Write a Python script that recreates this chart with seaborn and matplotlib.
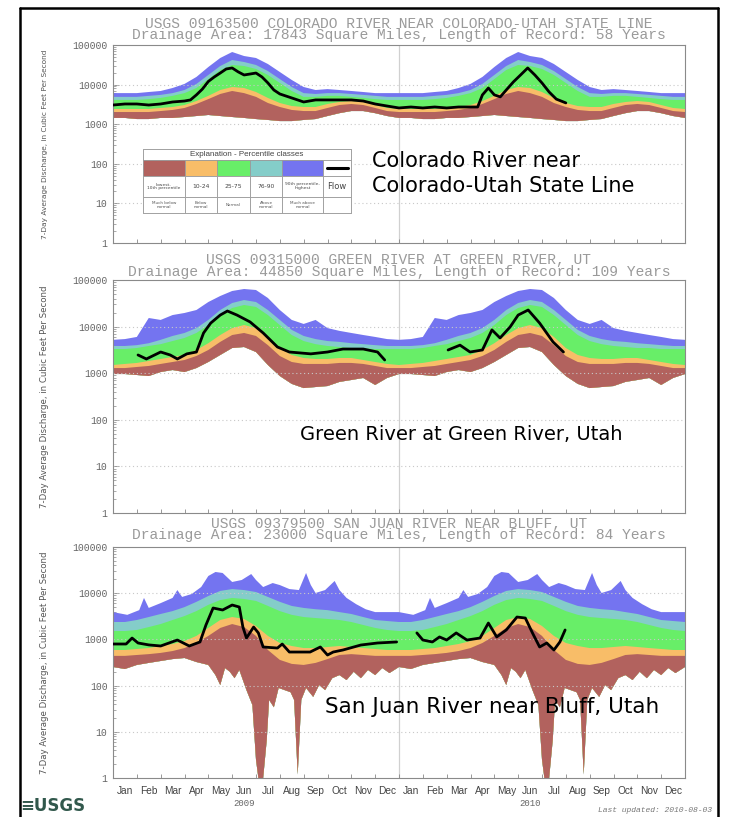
import numpy as np
import pandas as pd
import matplotlib.pyplot as plt
import seaborn as sns
from matplotlib.patches import Rectangle
from matplotlib.lines import Line2D
from matplotlib.ticker import LogLocator, NullFormatter

sns.set_style("white")
plt.rcParams["font.family"] = ["DejaVu Sans"]

# ---- data: 7-day average discharge (cfs), months since Jan 1 2009 ----
half_months = np.arange(0, 12, 0.5)
month_names = ["Jan", "Feb", "Mar", "Apr", "May", "Jun",
               "Jul", "Aug", "Sep", "Oct", "Nov", "Dec"]
years = ["2009", "2010"]

# Colorado River near Colorado-Utah state line (daily percentiles, one year)
co_max = [6100, 6100, 6100, 6500, 6900, 8200, 10400, 15600, 27800, 47000, 66500, 52700,
          47000, 33100, 20800, 13100, 8700, 7300, 7700, 7300, 6900, 6500, 6100, 6100]
co_p90 = [4900, 4900, 4900, 5200, 5500, 6100, 7300, 10400, 17500, 29500, 41800, 37200,
          31300, 22000, 13800, 8700, 6100, 5800, 6100, 6100, 5800, 5500, 5200, 4900]
co_p75 = [4100, 4100, 4100, 4300, 4600, 5200, 6100, 8200, 13800, 23400, 31300, 29500,
          24800, 17500, 11000, 6900, 4900, 4900, 5200, 5200, 4900, 4600, 4300, 4100]
co_p25 = [2420, 2420, 2420, 2420, 2570, 2720, 3050, 3850, 5200, 7300, 8700, 8200,
          6500, 4600, 3430, 2880, 2720, 2720, 3240, 3640, 3850, 3640, 3050, 2570]
co_p10 = [2030, 2030, 2030, 2030, 2150, 2290, 2570, 3240, 4300, 5800, 6900, 6100,
          4900, 3430, 2720, 2290, 2150, 2150, 2570, 3050, 3240, 3050, 2570, 2150]
co_min = [1440, 1440, 1350, 1350, 1440, 1440, 1520, 1610, 1710, 1610, 1520, 1440,
          1350, 1280, 1200, 1200, 1280, 1350, 1610, 1900, 2150, 2150, 1900, 1610]
co_flow_t = [0, 0.5, 1, 1.5, 2, 2.5, 3, 3.25, 3.5, 3.75, 4, 4.25, 4.5, 4.75, 5, 5.25,
             5.5, 5.75, 6, 6.25, 6.5, 6.75, 7, 7.5, 8, 8.5, 9, 9.5, 10, 10.5, 11, 11.5,
             12, 12.5, 13, 13.5, 14, 14.5, 15, 15.3, 15.5, 15.75, 16, 16.25, 16.5, 16.8,
             17.1, 17.4, 17.7, 18, 18.3, 18.6, 19]
co_flow = [3050, 3240, 3240, 3050, 3240, 3640, 3850, 4100, 5500, 7700, 12000, 15600,
           19600, 24800, 26300, 21000, 17500, 18500, 19600, 15600, 11000, 7300, 5800,
           4600, 3640, 4100, 4100, 4100, 4100, 3850, 3240, 2880, 2570, 2720, 2570, 2720,
           2570, 2720, 2720, 2720, 5500, 8200, 5500, 4900, 7300, 11700, 17500, 26300,
           17500, 11000, 6500, 4300, 3450]

# Green River at Green River, UT
gr_max = [5200, 5400, 6000, 15300, 13900, 17700, 19600, 22700, 33700, 45400, 58100, 64100,
          61000, 41100, 22700, 13900, 11400, 13900, 9300, 8100, 7300, 6600, 6000, 5400]
gr_p90 = [3840, 3840, 4000, 4400, 5200, 6300, 7300, 9300, 13900, 22700, 32100, 37200,
          33700, 22700, 13900, 8500, 6300, 5400, 4900, 4700, 4400, 4200, 4000, 3840]
gr_p75 = [3300, 3300, 3470, 3840, 4200, 4900, 5700, 7300, 10800, 17700, 25100, 29100,
          26400, 17700, 10800, 6600, 4900, 4200, 3840, 3650, 3470, 3470, 3300, 3300]
gr_p25 = [1500, 1580, 1660, 1830, 2020, 2230, 2460, 3150, 4400, 6600, 9300, 10800,
          9300, 6000, 3470, 2460, 2120, 2020, 2020, 2120, 2120, 1920, 1740, 1580]
gr_p10 = [1290, 1290, 1360, 1430, 1580, 1740, 1920, 2340, 3150, 4700, 6600, 7300,
          6300, 4000, 2340, 1740, 1580, 1580, 1580, 1660, 1660, 1580, 1430, 1290]
gr_min = [960, 960, 915, 870, 1060, 1170, 1060, 1290, 1740, 2460, 3470, 3650,
          2850, 1500, 870, 590, 480, 505, 530, 650, 715, 790, 560, 790]
gr_flow_t1 = [1.05, 1.4, 2.0, 2.4, 2.7, 3.1, 3.5, 3.8, 4.1, 4.5, 4.8, 5.2, 5.75, 6.3,
              6.9, 7.4, 8.3, 9.0, 9.65, 10.5, 11.1, 11.4]
gr_flow1 = [2460, 2020, 2850, 2460, 2020, 2600, 2850, 7300, 11900, 17700, 21600, 17700,
            12600, 7300, 3650, 2850, 2600, 2850, 3300, 3300, 2850, 1920]
gr_flow_t2 = [14.06, 14.56, 14.98, 15.5, 15.9, 16.24, 16.66, 17.0, 17.42, 17.9, 18.46, 18.9]
gr_flow2 = [3150, 4000, 2850, 3150, 8500, 5700, 9800, 17700, 22700, 11900, 4700, 2850]

# San Juan River near Bluff, UT
sj_max_t = [0, 0.6, 1.1, 1.3, 1.5, 2.0, 2.5, 2.7, 2.9, 3.3, 3.7, 4.0, 4.3, 4.6, 5.0, 5.4,
            5.8, 6.0, 6.3, 6.7, 7.0, 7.4, 7.8, 8.1, 8.3, 8.5, 8.9, 9.3, 9.5, 9.8, 10.2,
            10.6, 11.0, 11.5]
sj_max = [3900, 3400, 4300, 7900, 4800, 6100, 7900, 11700, 8300, 9600, 13600, 23600,
          28800, 27400, 17500, 19300, 26000, 19300, 13600, 16600, 15000, 12300, 11700,
          27400, 15000, 10100, 11700, 18400, 11700, 7900, 5800, 4500, 3900, 3900]
sj_p90 = [2380, 2380, 2630, 3050, 3550, 4100, 5000, 6500, 8700, 11200, 12300, 11700,
          10600, 8300, 6500, 5300, 4800, 4500, 4300, 3900, 3550, 3050, 2630, 2500]
sj_p75 = [1520, 1520, 1600, 1850, 2150, 2630, 3200, 4100, 5600, 7100, 7900, 7500,
          6800, 5300, 4100, 3400, 3050, 2900, 2770, 2630, 2380, 2050, 1770, 1600]
sj_p25 = [590, 590, 620, 650, 720, 795, 920, 1190, 1770, 2630, 3050, 2770,
          1950, 1190, 836, 720, 650, 650, 685, 720, 685, 650, 620, 590]
sj_p10 = [440, 440, 460, 480, 510, 560, 650, 836, 1190, 1770, 2150, 1850,
          1190, 590, 360, 295, 280, 310, 375, 460, 480, 460, 440, 440]
sj_min_t = [0.0, 0.5, 1.0, 1.5, 2.0, 2.5, 3.0, 3.5, 4.0, 4.3, 4.5, 4.7, 4.9, 5.1, 5.3,
            5.6, 5.85, 6.0, 6.1, 6.3, 6.45, 6.55, 6.75, 6.95, 7.2, 7.45, 7.6, 7.75, 7.9,
            8.1, 8.4, 8.65, 8.9, 9.2, 9.5, 9.8, 10.1, 10.4, 10.7, 11.0, 11.3, 11.6]
sj_min = [253, 229, 280, 310, 341, 375, 396, 324, 280, 169, 103, 240, 200, 145, 218,
          80, 38, 2.5, 1.0, 1.0, 6.6, 49, 34, 89, 80, 72, 49, 1.2, 49, 89, 57, 103, 80,
          145, 169, 132, 200, 145, 218, 169, 240, 187]
sj_flow_t1 = [0, 0.55, 0.8, 1.05, 1.5, 2.0, 2.7, 3.2, 3.65, 3.9, 4.2, 4.6, 5.0, 5.3,
              5.45, 5.6, 5.9, 6.1, 6.3, 6.9, 7.1, 7.4, 8.27, 8.7, 9.0, 9.24, 9.65, 10.4,
              11.1, 11.9]
sj_flow1 = [795, 795, 1070, 836, 760, 720, 970, 720, 880, 2050, 4780, 4330, 5550, 5020,
            1850, 1070, 1850, 1380, 685, 650, 795, 533, 533, 685, 459, 533, 590, 756,
            836, 880]
sj_flow_t2 = [12.75, 13.0, 13.4, 13.7, 14.0, 14.4, 14.85, 15.4, 15.75, 16.1, 16.5, 16.95,
              17.3, 17.6, 17.9, 18.2, 18.5, 18.75, 18.97]
sj_flow2 = [1380, 970, 880, 1130, 970, 1380, 970, 1070, 2260, 1130, 1600, 3050, 2900,
            1380, 685, 836, 590, 880, 1600]

legend_labels = ["lowest-\n10th percentile", "10-24", "25-75", "76-90",
                 "90th percentile-\nhighest", "Flow"]
legend_desc = ["Much below\nnormal", "Below\nnormal", "Normal", "Above\nnormal",
               "Much above\nnormal", ""]

BROWN, ORANGE, GREEN, TEAL, BLUE = "#b2625e", "#f8bd68", "#68ee68", "#84cdc9", "#7474f0"

W, H = 730, 817
fig = plt.figure(figsize=(W / 100, H / 100), dpi=100)


def fx(px):
    return px / W


def fy(py):
    return 1 - py / H


def two_years(t, v):
    # the percentile classes repeat every year
    t = np.asarray(t, float)
    v = np.asarray(v, float)
    return np.r_[t, t + 12, 24], np.r_[v, v, v[0]]


panels = [
    dict(top=45, bottom=243, ttl=29.5, ysize=5.3,
         title="USGS 09163500 COLORADO RIVER NEAR COLORADO-UTAH STATE LINE\n"
               "Drainage Area: 17843 Square Miles, Length of Record: 58 Years",
         bands=[(half_months, co_min), (half_months, co_p10), (half_months, co_p25),
                (half_months, co_p75), (half_months, co_p90), (half_months, co_max)],
         flows=[(co_flow_t, co_flow)]),
    dict(top=280, bottom=513, ttl=266, ysize=6.2,
         title="USGS 09315000 GREEN RIVER AT GREEN RIVER, UT\n"
               "Drainage Area: 44850 Square Miles, Length of Record: 109 Years",
         bands=[(half_months, gr_min), (half_months, gr_p10), (half_months, gr_p25),
                (half_months, gr_p75), (half_months, gr_p90), (half_months, gr_max)],
         flows=[(gr_flow_t1, gr_flow1), (gr_flow_t2, gr_flow2)]),
    dict(top=547, bottom=778, ttl=529.5, ysize=6.2,
         title="USGS 09379500 SAN JUAN RIVER NEAR BLUFF, UT\n"
               "Drainage Area: 23000 Square Miles, Length of Record: 84 Years",
         bands=[(sj_min_t, sj_min), (half_months, sj_p10), (half_months, sj_p25),
                (half_months, sj_p75), (half_months, sj_p90), (sj_max_t, sj_max)],
         flows=[(sj_flow_t1, sj_flow1), (sj_flow_t2, sj_flow2)]),
]

for i, p in enumerate(panels):
    ax = fig.add_axes([fx(113), fy(p["bottom"]), fx(685) - fx(113),
                       (p["bottom"] - p["top"]) / H])
    ax.set_yscale("log")

    # stacked percentile classes, painted from the top class down
    lo_t, lo_v = two_years(*p["bands"][0])
    for (t, v), col in zip(p["bands"][:0:-1], [BLUE, TEAL, GREEN, ORANGE, BROWN]):
        up_t, up_v = two_years(t, v)
        ax.fill(np.r_[lo_t, up_t[::-1]], np.r_[lo_v, up_v[::-1]],
                color=col, lw=0, zorder=1)

    flow_df = pd.concat([pd.DataFrame({"month": t, "cfs": v, "seg": k})
                         for k, (t, v) in enumerate(p["flows"])])
    sns.lineplot(data=flow_df, x="month", y="cfs", units="seg", estimator=None,
                 color="black", lw=2.0, ax=ax, legend=False, zorder=4)

    ax.set_xlim(0, 24)
    ax.set_ylim(1, 100000)
    ax.set_xlabel("")
    ax.set_ylabel("")
    for v in [10, 100, 1000, 10000]:
        ax.axhline(v, color="#c8c8c8", ls=(0, (1, 2.5)), lw=0.8, zorder=2)
    ax.axvline(12, color="#d0d0d0", lw=0.9, zorder=0.5)

    ax.set_yticks([1, 10, 100, 1000, 10000, 100000])
    ax.set_yticklabels(["1", "10", "100", "1000", "10000", "100000"],
                       family="Liberation Mono", size=7, color="#666666")
    ax.yaxis.set_minor_locator(LogLocator(base=10, subs=np.arange(2, 10)))
    ax.yaxis.set_minor_formatter(NullFormatter())
    ax.tick_params(axis="y", which="major", direction="in", length=4, width=0.6,
                   color="#888888", left=True, pad=4)
    ax.tick_params(axis="y", which="minor", direction="in", length=2.5, width=0.5,
                   color="#888888", left=True)
    ax.set_xticks(np.arange(1, 24), minor=True)
    ax.tick_params(axis="x", which="minor", direction="in", length=3, width=0.6,
                   color="#888888", bottom=True)
    if i == 2:
        ax.set_xticks(np.arange(0.5, 24, 1))
        ax.set_xticklabels(month_names * 2, family="Liberation Sans", size=7.3,
                           color="#444444")
        ax.tick_params(axis="x", which="major", length=0, pad=6)
        for k, yr in enumerate(years):
            ax.text(5.5 + 12 * k, -0.11, yr, transform=ax.get_xaxis_transform(),
                    ha="center", va="center", family="Liberation Mono", size=6.5,
                    color="#666666")
    else:
        ax.set_xticks([])
    for s in ax.spines.values():
        s.set_color("#8a8a8a")
        s.set_linewidth(0.8)

    fig.text(fx(399), fy(p["ttl"]), p["title"], ha="center", va="center",
             multialignment="center", linespacing=0.78,
             family="Liberation Mono", size=10.5, color="#9a9a9a")
    fig.text(fx(45), fy((p["top"] + p["bottom"]) / 2),
             "7-Day Average Discharge, in Cubic Feet Per Second", rotation=90,
             ha="center", va="center", size=p["ysize"], color="#555555")

# station notes
note = dict(family="DejaVu Sans", color="black", va="center", ha="left")
fig.text(fx(372), fy(161), "Colorado River near", size=15, **note)
fig.text(fx(372), fy(186), "Colorado-Utah State Line", size=15, **note)
fig.text(fx(300), fy(434), "Green River at Green River, Utah", size=14, **note)
fig.text(fx(325), fy(707), "San Juan River near Bluff, Utah", size=15.5, **note)


# explanation table in the first panel
def cell(x0, y0, x1, y1, fc="white"):
    fig.add_artist(Rectangle((fx(x0), fy(y1)), fx(x1) - fx(x0), fy(y0) - fy(y1),
                             transform=fig.transFigure, facecolor=fc,
                             edgecolor="#9a9a9a", lw=0.6, zorder=5))


cols = [143, 185, 217, 250, 282, 323, 351]
rows = [149, 160, 176, 197, 213]
cell(cols[0], rows[0], cols[-1], rows[-1])
cell(cols[0], rows[0], cols[-1], rows[1])
fig.text(fx((cols[0] + cols[-1]) / 2), fy((rows[0] + rows[1]) / 2),
         "Explanation - Percentile classes", ha="center", va="center",
         family="Liberation Sans", size=5.8, color="#444444", zorder=6)
for k, col in enumerate([BROWN, ORANGE, GREEN, TEAL, BLUE, "white"]):
    x0, x1 = cols[k], cols[k + 1]
    cell(x0, rows[1], x1, rows[2], col)
    cell(x0, rows[2], x1, rows[3])
    cell(x0, rows[3], x1, rows[4])
    small = 3.2 if "\n" in legend_labels[k] else 4.3
    if k == 5:
        small = 6
    fig.text(fx((x0 + x1) / 2), fy((rows[2] + rows[3]) / 2), legend_labels[k],
             ha="center", va="center", size=small, color="#444444", zorder=6,
             linespacing=1.0)
    fig.text(fx((x0 + x1) / 2), fy((rows[3] + rows[4]) / 2), legend_desc[k],
             ha="center", va="center", size=3.0, color="#555555", zorder=6,
             linespacing=1.0)
fig.add_artist(Line2D([fx(cols[5] + 4), fx(cols[6] - 3)],
                      [fy((rows[1] + rows[2]) / 2)] * 2, color="black", lw=2.2,
                      transform=fig.transFigure, zorder=6))

# footer and outer frame
fig.text(fx(20), fy(806), "\u2261USGS", ha="left", va="center", size=12,
         weight="bold", color="#31584c")
fig.text(fx(712), fy(810), "Last updated: 2010-08-03", ha="right", va="center",
         family="Liberation Mono", style="italic", size=5.8, color="#777777")
for xs, ys in [([20, 20], [8, 830]), ([20, 718], [8, 8]), ([718, 718], [8, 830])]:
    fig.add_artist(Line2D([fx(x) for x in xs], [fy(y) for y in ys], color="black",
                          lw=1.8, transform=fig.transFigure))

fig.savefig("out.png", dpi=100)
